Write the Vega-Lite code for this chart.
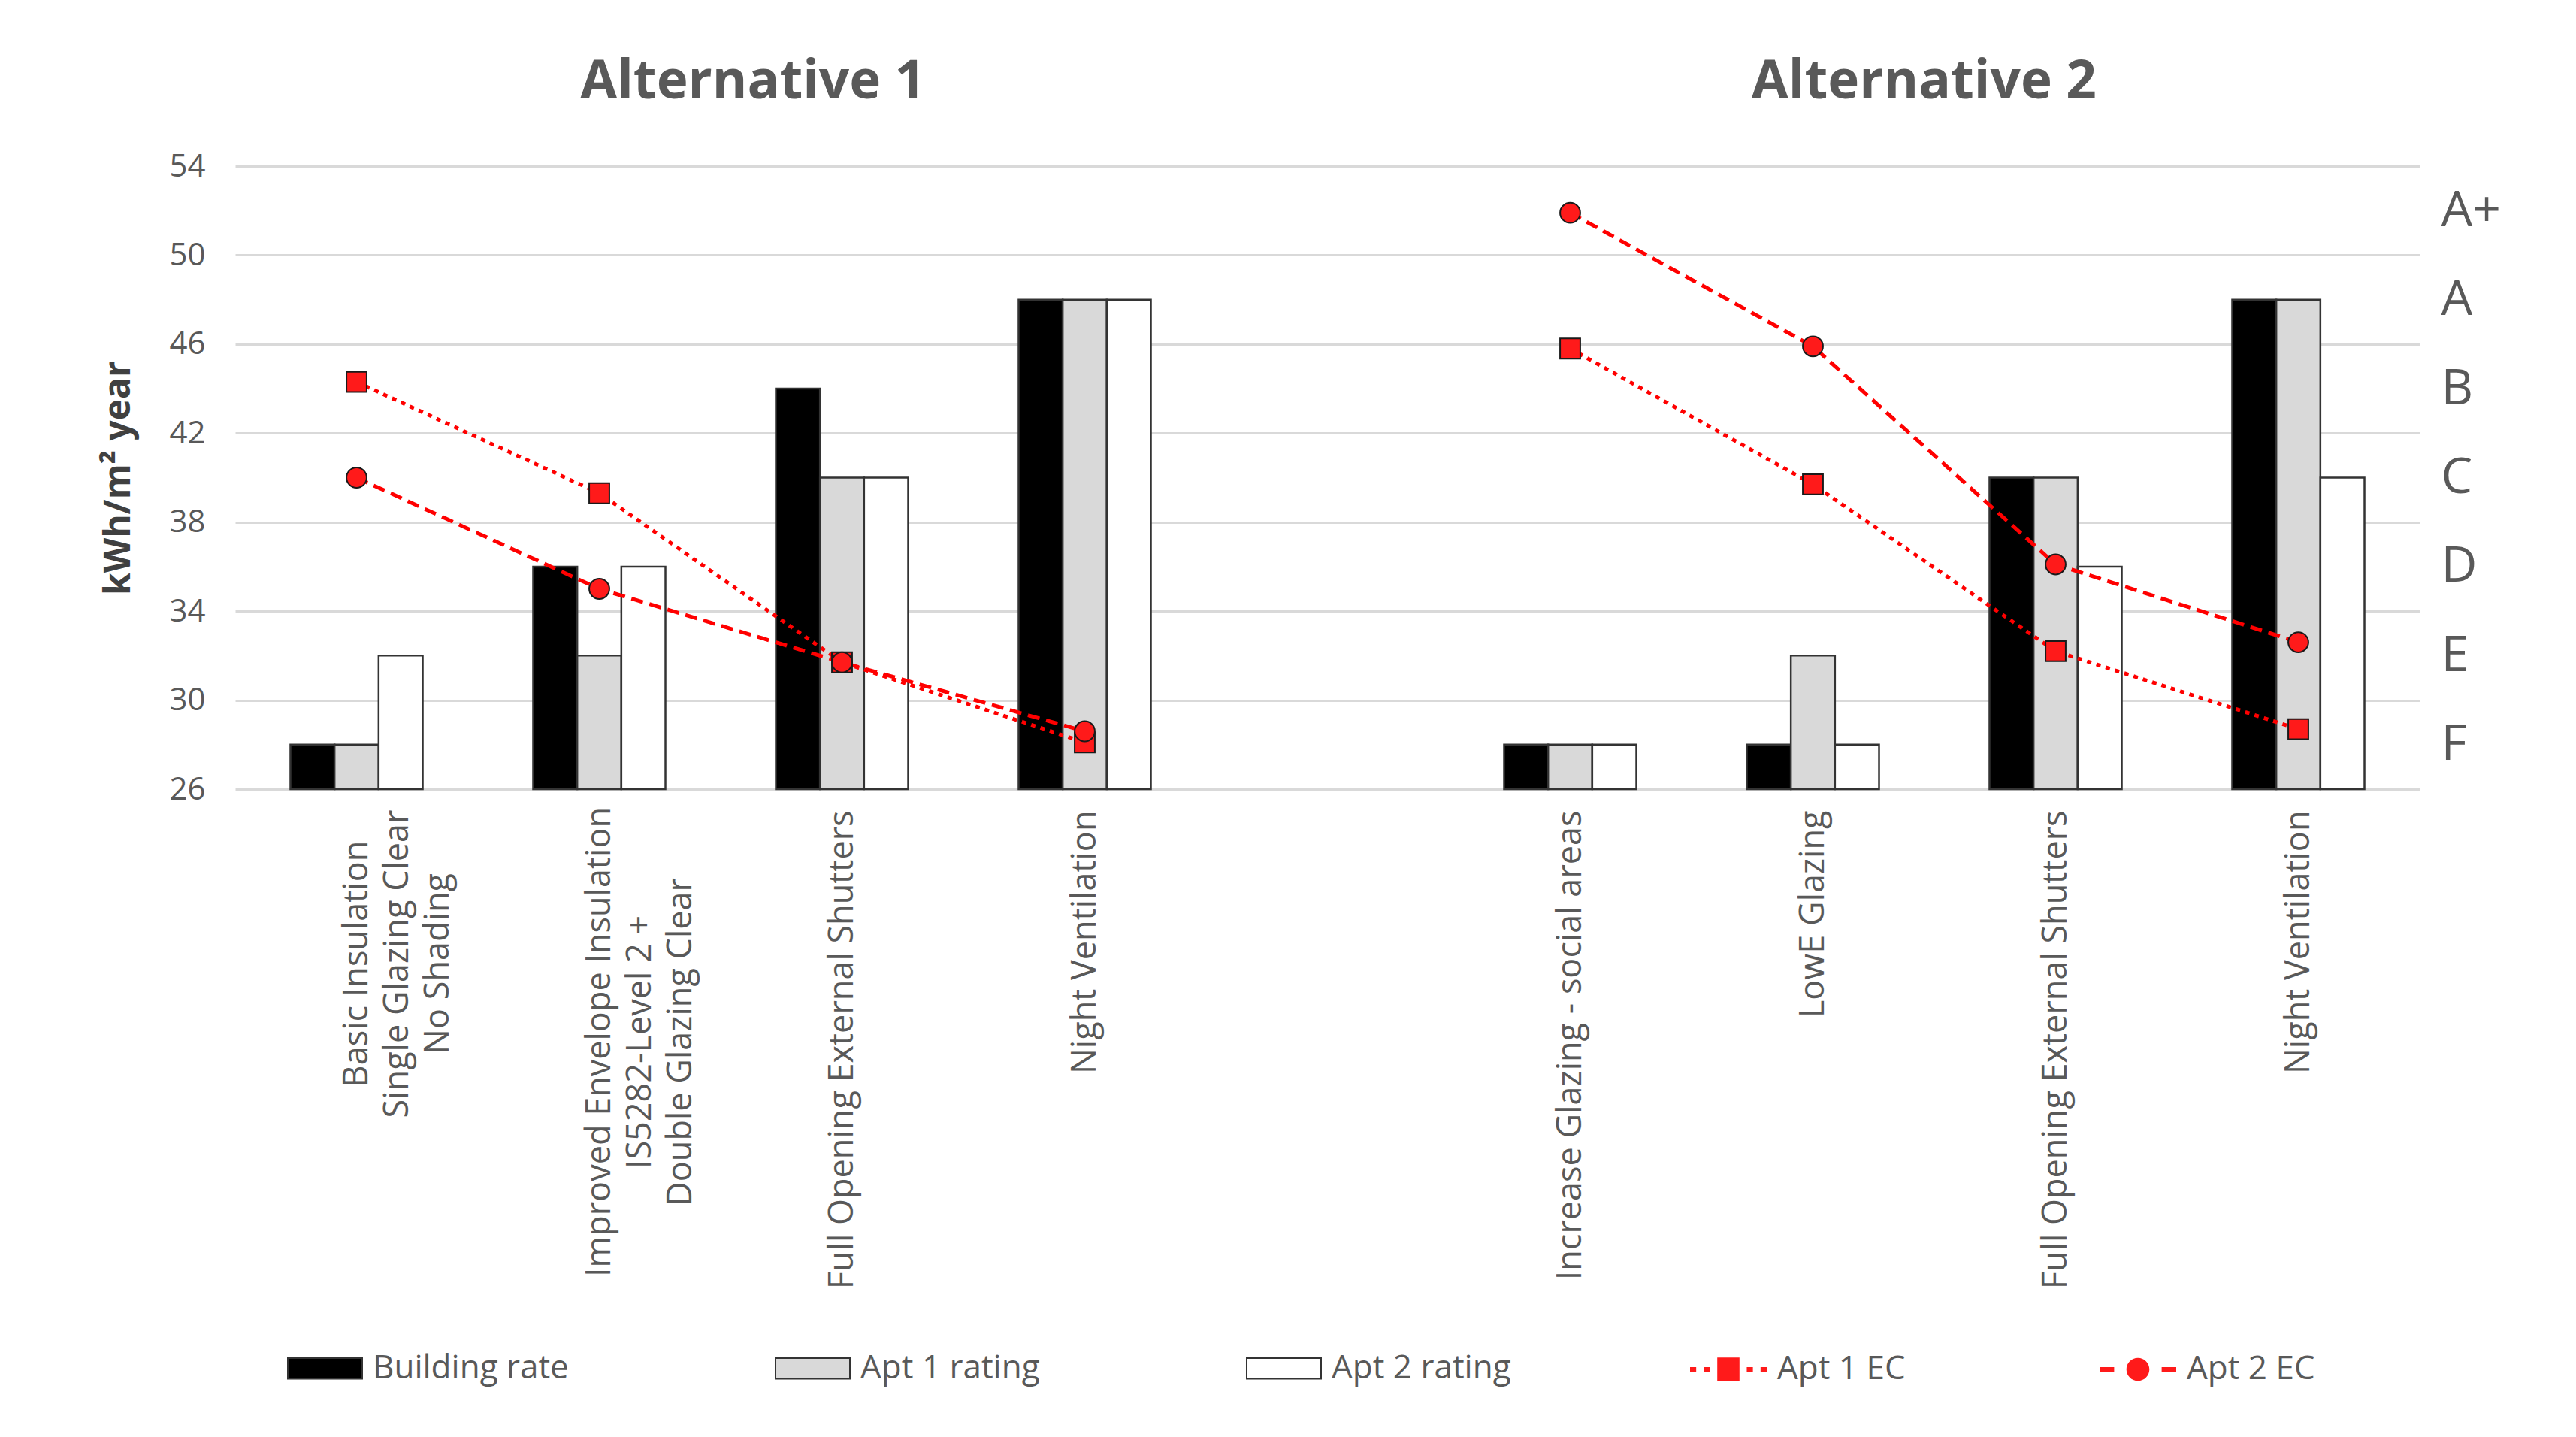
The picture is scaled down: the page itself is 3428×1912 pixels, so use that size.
{
  "$schema": "https://vega.github.io/schema/vega-lite/v6.json",
  "width": 2907,
  "height": 829,
  "autosize": {"type": "none"},
  "padding": {"left": 313, "top": 221, "right": 208, "bottom": 862},
  "background": "white",
  "config": {"font": "Open Sans", "view": {"stroke": null}},
  "datasets": {
    "bars": [
      {"case": "a1", "series": "Building rate", "value": 28},
      {"case": "a1", "series": "Apt 1 rating", "value": 28},
      {"case": "a1", "series": "Apt 2  rating", "value": 32},
      {"case": "a2", "series": "Building rate", "value": 36},
      {"case": "a2", "series": "Apt 1 rating", "value": 32},
      {"case": "a2", "series": "Apt 2  rating", "value": 36},
      {"case": "a3", "series": "Building rate", "value": 44},
      {"case": "a3", "series": "Apt 1 rating", "value": 40},
      {"case": "a3", "series": "Apt 2  rating", "value": 40},
      {"case": "a4", "series": "Building rate", "value": 48},
      {"case": "a4", "series": "Apt 1 rating", "value": 48},
      {"case": "a4", "series": "Apt 2  rating", "value": 48},
      {"case": "b1", "series": "Building rate", "value": 28},
      {"case": "b1", "series": "Apt 1 rating", "value": 28},
      {"case": "b1", "series": "Apt 2  rating", "value": 28},
      {"case": "b2", "series": "Building rate", "value": 28},
      {"case": "b2", "series": "Apt 1 rating", "value": 32},
      {"case": "b2", "series": "Apt 2  rating", "value": 28},
      {"case": "b3", "series": "Building rate", "value": 40},
      {"case": "b3", "series": "Apt 1 rating", "value": 40},
      {"case": "b3", "series": "Apt 2  rating", "value": 36},
      {"case": "b4", "series": "Building rate", "value": 48},
      {"case": "b4", "series": "Apt 1 rating", "value": 48},
      {"case": "b4", "series": "Apt 2  rating", "value": 40}
    ],
    "ec": [
      {"case": "a1", "alt": "Alternative 1", "series": "Apt 1 EC", "value": 44.3},
      {"case": "a2", "alt": "Alternative 1", "series": "Apt 1 EC", "value": 39.3},
      {"case": "a3", "alt": "Alternative 1", "series": "Apt 1 EC", "value": 31.7},
      {"case": "a4", "alt": "Alternative 1", "series": "Apt 1 EC", "value": 28.1},
      {"case": "a1", "alt": "Alternative 1", "series": "Apt 2 EC", "value": 40.0},
      {"case": "a2", "alt": "Alternative 1", "series": "Apt 2 EC", "value": 35.0},
      {"case": "a3", "alt": "Alternative 1", "series": "Apt 2 EC", "value": 31.7},
      {"case": "a4", "alt": "Alternative 1", "series": "Apt 2 EC", "value": 28.6},
      {"case": "b1", "alt": "Alternative 2", "series": "Apt 1 EC", "value": 45.8},
      {"case": "b2", "alt": "Alternative 2", "series": "Apt 1 EC", "value": 39.7},
      {"case": "b3", "alt": "Alternative 2", "series": "Apt 1 EC", "value": 32.2},
      {"case": "b4", "alt": "Alternative 2", "series": "Apt 1 EC", "value": 28.7},
      {"case": "b1", "alt": "Alternative 2", "series": "Apt 2 EC", "value": 51.9},
      {"case": "b2", "alt": "Alternative 2", "series": "Apt 2 EC", "value": 45.9},
      {"case": "b3", "alt": "Alternative 2", "series": "Apt 2 EC", "value": 36.1},
      {"case": "b4", "alt": "Alternative 2", "series": "Apt 2 EC", "value": 32.6}
    ],
    "titles": [
      {"title": "Alternative 1", "case": "a2"},
      {"title": "Alternative 2", "case": "b2"}
    ],
    "ratings": [
      {"rating": "A+"}, {"rating": "A"}, {"rating": "B"}, {"rating": "C"},
      {"rating": "D"}, {"rating": "E"}, {"rating": "F"}
    ]
  },
  "layer": [
    {
      "layer": [
        {
          "data": {"name": "bars"},
          "mark": {"type": "bar", "stroke": "#333333", "strokeWidth": 2.5},
          "encoding": {
            "x": {
              "field": "case", "type": "nominal",
              "scale": {"domain": ["a1", "a2", "a3", "a4", "gap", "b1", "b2", "b3", "b4"], "paddingInner": 0.455, "paddingOuter": 0.2275},
              "title": null,
              "axis": {
                "domain": false, "ticks": false, "grid": false,
                "labelAngle": -90,
                "labelAlign": {"condition": {"test": "datum.value == 'a1' || datum.value == 'a2'", "value": "center"}, "value": "right"},
                "labelPadding": {"condition": [{"test": "datum.value == 'a1'", "value": 232}, {"test": "datum.value == 'a2'", "value": 336}], "value": 28},
                "labelBaseline": "middle",
                "labelFontSize": 45, "labelColor": "#595959",
                "labelLineHeight": 54, "labelLimit": 1500, "labelOverlap": false,
                "labelExpr": "datum.value == 'a1' ? ['Basic Insulation', 'Single Glazing Clear', 'No Shading'] : datum.value == 'a2' ? ['Improved Envelope Insulation', 'IS5282-Level 2 +', 'Double Glazing Clear'] : (datum.value == 'a3' || datum.value == 'b3') ? 'Full Opening External Shutters' : (datum.value == 'a4' || datum.value == 'b4') ? 'Night Ventilation' : datum.value == 'b1' ? 'Increase Glazing - social areas' : datum.value == 'b2' ? 'LowE Glazing' : ''"
              }
            },
            "xOffset": {
              "field": "series", "type": "nominal",
              "scale": {"domain": ["Building rate", "Apt 1 rating", "Apt 2  rating"], "paddingInner": 0, "paddingOuter": 0}
            },
            "y": {
              "field": "value", "type": "quantitative",
              "scale": {"domain": [26, 54], "nice": false, "zero": false},
              "title": "kWh/m² year",
              "axis": {
                "values": [26, 30, 34, 38, 42, 46, 50, 54],
                "domain": false, "ticks": false, "grid": true,
                "gridColor": "#d9d9d9", "gridWidth": 3,
                "labelFontSize": 42, "labelColor": "#595959", "labelPadding": 40,
                "titleFontSize": 48, "titleFontWeight": "bold", "titleColor": "#404040", "titlePadding": 42
              }
            },
            "y2": {"datum": 26},
            "fill": {
              "field": "series", "type": "nominal",
              "scale": {"domain": ["Building rate", "Apt 1 rating", "Apt 2  rating"], "range": ["#000000", "#d9d9d9", "#ffffff"]},
              "legend": {
                "title": null, "orient": "none", "legendX": 69, "legendY": 1549,
                "direction": "horizontal", "columns": 3, "columnPadding": 271,
                "symbolType": "M-1,-0.28H1V0.28H-1Z", "symbolSize": 9800,
                "symbolStrokeColor": "#333333", "symbolStrokeWidth": 2,
                "labelFontSize": 44, "labelColor": "#595959", "labelOffset": 13, "labelLimit": 800
              }
            }
          }
        },
        {
          "data": {"name": "ec"},
          "transform": [{"filter": "datum.series == 'Apt 1 EC'"}],
          "mark": {"type": "line", "color": "#ff0000", "strokeWidth": 5, "strokeDash": [6, 7]},
          "encoding": {
            "x": {"field": "case", "type": "nominal"},
            "y": {"field": "value", "type": "quantitative"},
            "detail": {"field": "alt"}
          }
        },
        {
          "data": {"name": "ec"},
          "transform": [{"filter": "datum.series == 'Apt 2 EC'"}],
          "mark": {"type": "line", "color": "#ff0000", "strokeWidth": 5, "strokeDash": [16, 9]},
          "encoding": {
            "x": {"field": "case", "type": "nominal"},
            "y": {"field": "value", "type": "quantitative"},
            "detail": {"field": "alt"}
          }
        },
        {
          "data": {"name": "ec"},
          "mark": {"type": "point", "filled": true, "fill": "#ff1a1a", "stroke": "#1a1a1a", "strokeWidth": 2, "size": 720, "opacity": 1},
          "encoding": {
            "x": {"field": "case", "type": "nominal"},
            "y": {"field": "value", "type": "quantitative"},
            "shape": {
              "field": "series", "type": "nominal",
              "scale": {"domain": ["Apt 1 EC", "Apt 2 EC"], "range": ["square", "circle"]},
              "legend": null
            }
          }
        },
        {
          "data": {"name": "ec"},
          "mark": {"type": "point", "filled": true, "fill": "#ff1a1a", "stroke": "#1a1a1a", "opacity": 0},
          "encoding": {
            "x": {"field": "case", "type": "nominal"},
            "y": {"field": "value", "type": "quantitative"},
            "shape": {
              "field": "series", "type": "nominal",
              "scale": {"domain": ["Apt 1 EC", "Apt 2 EC"], "range": [
                "M-1,-0.06H-0.84V0.06H-1Z M-0.64,-0.06H-0.48V0.06H-0.64Z M-0.29,-0.31H0.29V0.31H-0.29Z M0.48,-0.06H0.64V0.06H0.48Z M0.84,-0.06H1V0.06H0.84Z",
                "M-1,-0.06H-0.62V0.06H-1Z M-0.3,0A0.3,0.3 0 1,0 0.3,0A0.3,0.3 0 1,0 -0.3,0Z M0.62,-0.06H1V0.06H0.62Z"
              ]},
              "legend": {
                "title": null, "orient": "none", "legendX": 1935, "legendY": 1549,
                "direction": "horizontal", "columns": 2, "columnPadding": 255,
                "symbolSize": 10400, "symbolOpacity": 1, "symbolStrokeWidth": 1.5,
                "symbolFillColor": "#ff1a1a", "symbolStrokeColor": "#1a1a1a",
                "labelFontSize": 44, "labelColor": "#595959", "labelOffset": 13, "labelLimit": 800
              }
            }
          }
        },
        {
          "data": {"name": "titles"},
          "transform": [{"filter": "datum.title == 'Alternative 1'"}],
          "mark": {"type": "text", "fontSize": 71, "fontWeight": "bold", "color": "#595959", "baseline": "middle", "align": "center"},
          "encoding": {
            "x": {"field": "case", "type": "nominal", "bandPosition": 1.66},
            "y": {"datum": 57.75},
            "text": {"field": "title"}
          }
        },
        {
          "data": {"name": "titles"},
          "transform": [{"filter": "datum.title == 'Alternative 2'"}],
          "mark": {"type": "text", "fontSize": 71, "fontWeight": "bold", "color": "#595959", "baseline": "middle", "align": "center"},
          "encoding": {
            "x": {"field": "case", "type": "nominal", "bandPosition": 1.34},
            "y": {"datum": 57.75},
            "text": {"field": "title"}
          }
        }
      ],
      "resolve": {"scale": {"shape": "independent"}}
    },
    {
      "data": {"name": "ratings"},
      "mark": {"type": "point", "opacity": 0},
      "encoding": {
        "y": {
          "field": "rating", "type": "ordinal",
          "scale": {"type": "point", "domain": ["A+", "A", "B", "C", "D", "E", "F"], "padding": 0.5},
          "title": null,
          "axis": {
            "orient": "right", "domain": false, "ticks": false, "grid": false,
            "labelFontSize": 66, "labelColor": "#595959", "labelPadding": 28, "labelAlign": "left"
          }
        }
      }
    }
  ],
  "resolve": {"scale": {"y": "independent"}}
}
